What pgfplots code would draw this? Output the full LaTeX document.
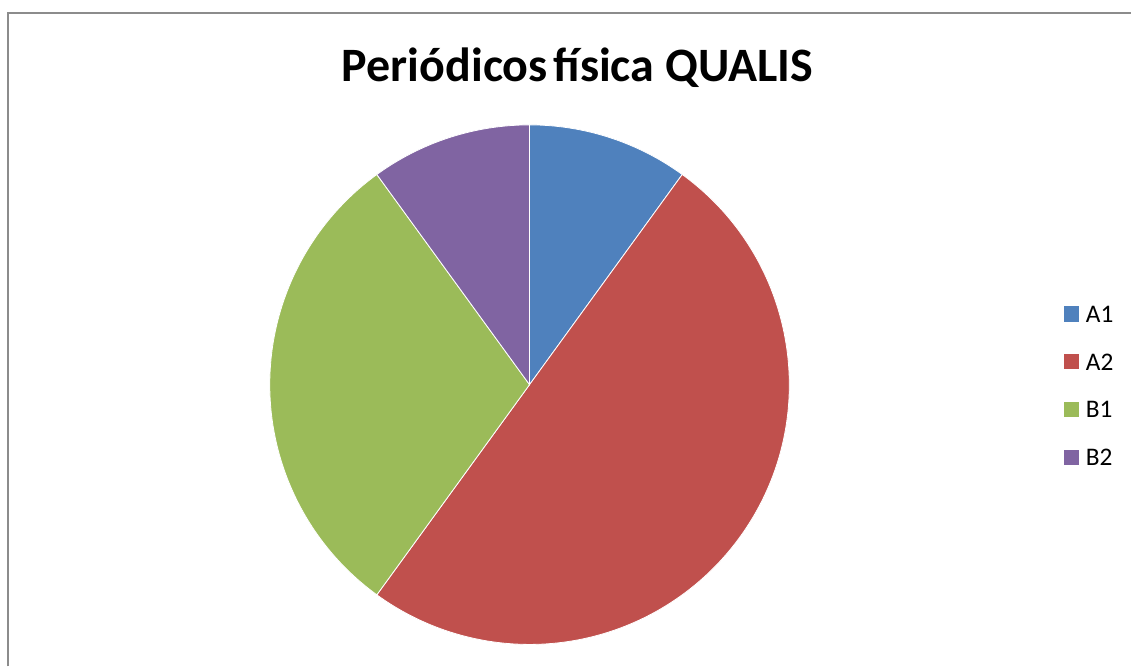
\documentclass[border=0pt]{standalone}
\usepackage{pgfplots}
\pgfplotsset{compat=1.18}
\usepackage{fontspec}
\setmainfont{Carlito}
\definecolor{cA}{HTML}{4F81BD}
\definecolor{cB}{HTML}{C0504D}
\definecolor{cC}{HTML}{9BBB59}
\definecolor{cD}{HTML}{8064A2}
\definecolor{frame}{HTML}{8C8C8C}
% slice shares (percent)
\def\vA{10}
\def\vB{50}
\def\vC{30}
\def\vD{10}
\newcommand\lf{\fontsize{19}{22}\selectfont}
\begin{document}
\begin{tikzpicture}
\begin{axis}[
  x=0.75pt, y=0.75pt,
  xmin=0, xmax=1132, ymin=0, ymax=667,
  hide axis, clip=false,
  legend style={draw=none, fill=none, at={(axis cs:1065,281)}, anchor=west,
    inner sep=0pt, outer sep=0pt,
    nodes={text height=12.5pt, text depth=0pt, inner sep=3pt},
    row sep=17.5pt,
    legend cell align=left},
  legend image code/.code={\fill[#1] (0pt,-5.3pt) rectangle (10.6pt,5.3pt); \path (13pt,0pt);},
]
\path (axis cs:0,0) rectangle (axis cs:1132,667);
\draw[frame, line width=1.5pt] (axis cs:8.5,0) -- (axis cs:8.5,653.5) -- (axis cs:1132,653.5);
\node[font=\fontsize{36}{42}\selectfont\bfseries] at (axis cs:578,599) {Periódicos\hspace{0.12em}física QUALIS};
% pie: center (530,282), radius 260 px = 195pt
\fill[cA, draw=white, line width=0.6pt] (axis cs:530,282) -- ++(90:195pt) arc[start angle=90, end angle={90-3.6*\vA}, radius=195pt] -- cycle;
\fill[cB, draw=white, line width=0.6pt] (axis cs:530,282) -- ++({90-3.6*\vA}:195pt) arc[start angle={90-3.6*\vA}, end angle={90-3.6*(\vA+\vB)}, radius=195pt] -- cycle;
\fill[cC, draw=white, line width=0.6pt] (axis cs:530,282) -- ++({90-3.6*(\vA+\vB)}:195pt) arc[start angle={90-3.6*(\vA+\vB)}, end angle={90-3.6*(\vA+\vB+\vC)}, radius=195pt] -- cycle;
\fill[cD, draw=white, line width=0.6pt] (axis cs:530,282) -- ++({90-3.6*(\vA+\vB+\vC)}:195pt) arc[start angle={90-3.6*(\vA+\vB+\vC)}, end angle={90-3.6*(\vA+\vB+\vC+\vD)}, radius=195pt] -- cycle;
\addlegendimage{cA}\addlegendentry{\lf A1}
\addlegendimage{cB}\addlegendentry{\lf A2}
\addlegendimage{cC}\addlegendentry{\lf B1}
\addlegendimage{cD}\addlegendentry{\lf B2}
\end{axis}
\end{tikzpicture}
\end{document}
